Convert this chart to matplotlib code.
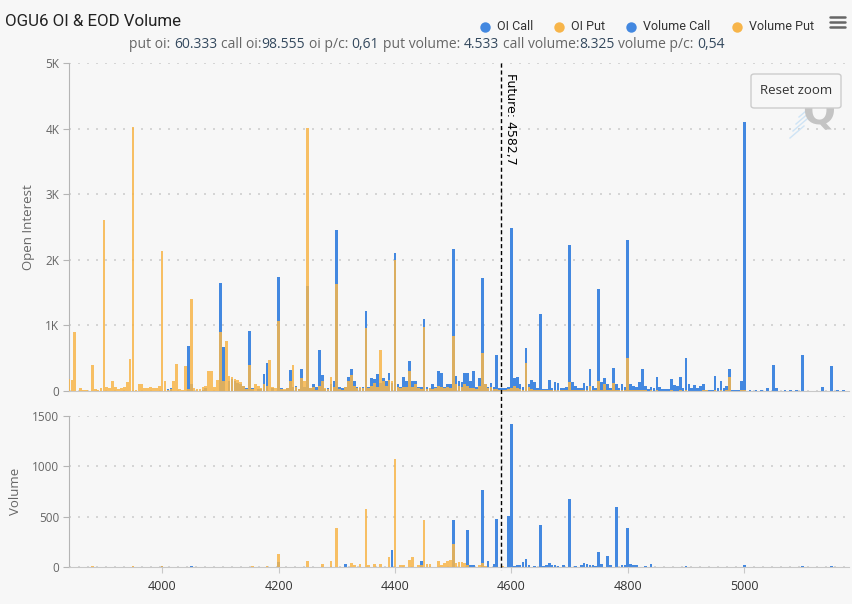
import matplotlib
matplotlib.use('Agg')
import matplotlib.pyplot as plt
import matplotlib.transforms as mtransforms
from matplotlib.ticker import FuncFormatter, FixedLocator
from matplotlib.patches import FancyBboxPatch
from matplotlib.lines import Line2D

# ---- data ----
title = "OGU6 OI & EOD Volume"
future = 4582.7
future_label = "Future: 4582,7"

put_oi = "60.333"
call_oi = "98.555"
oi_pc = "0,61"
put_volume = "4.533"
call_volume = "8.325"
volume_pc = "0,54"

oi_strikes = [
    3840, 3845, 3850, 3860, 3865, 3870, 3880, 3885, 3890, 3895,
    3900, 3905, 3910, 3915, 3920, 3925, 3930, 3935, 3940, 3945,
    3950, 3955, 3960, 3965, 3970, 3975, 3980, 3985, 3990, 3995,
    4000, 4005, 4010, 4015, 4020, 4025, 4030, 4035, 4040, 4045,
    4050, 4055, 4060, 4065, 4070, 4075, 4080, 4085, 4090, 4095,
    4100, 4105, 4110, 4115, 4120, 4125, 4130, 4135, 4140, 4145,
    4150, 4155, 4160, 4165, 4170, 4175, 4180, 4185, 4190, 4195,
    4200, 4205, 4210, 4215, 4220, 4225, 4230, 4235, 4240, 4245,
    4250, 4255, 4260, 4265, 4270, 4275, 4280, 4285, 4290, 4295,
    4300, 4305, 4310, 4315, 4320, 4325, 4330, 4335, 4340, 4345,
    4350, 4355, 4360, 4365, 4370, 4375, 4380, 4385, 4390, 4395,
    4400, 4405, 4410, 4415, 4420, 4425, 4430, 4435, 4440, 4445,
    4450, 4455, 4460, 4465, 4470, 4475, 4480, 4485, 4490, 4495,
    4500, 4505, 4510, 4515, 4520, 4525, 4530, 4535, 4540, 4545,
    4550, 4555, 4560, 4565, 4570, 4575, 4580, 4585, 4590, 4595,
    4600, 4605, 4610, 4615, 4620, 4625, 4630, 4635, 4640, 4645,
    4650, 4655, 4660, 4665, 4670, 4675, 4680, 4685, 4690, 4695,
    4700, 4705, 4710, 4715, 4720, 4725, 4730, 4735, 4740, 4745,
    4750, 4755, 4760, 4765, 4770, 4775, 4780, 4785, 4790, 4795,
    4800, 4805, 4810, 4815, 4820, 4825, 4830, 4835, 4840, 4845,
    4850, 4855, 4860, 4865, 4870, 4875, 4880, 4885, 4890, 4895,
    4900, 4905, 4910, 4915, 4920, 4925, 4930, 4935, 4940, 4945,
    4950, 4955, 4960, 4965, 4970, 4975, 4980, 4985, 4990, 4995,
    5000, 5010, 5020, 5030, 5040, 5050, 5055, 5070, 5080, 5090,
    5100, 5135, 5150, 5160, 5170,
]
oi_call = [
    0, 0, 0, 0, 0, 0, 0, 0, 0, 0,
    0, 0, 0, 0, 0, 0, 0, 0, 0, 0,
    0, 0, 0, 0, 0, 0, 0, 0, 0, 0,
    0, 0, 30, 50, 0, 0, 0, 0, 0, 680,
    100, 0, 0, 0, 20, 50, 0, 0, 0, 0,
    1650, 670, 0, 150, 180, 150, 120, 100, 80, 50,
    920, 40, 0, 30, 30, 260, 420, 0, 40, 0,
    1740, 40, 20, 50, 320, 60, 80, 30, 330, 60,
    1600, 50, 100, 60, 620, 240, 30, 50, 100, 150,
    2450, 60, 40, 60, 220, 340, 150, 60, 40, 60,
    1220, 60, 200, 180, 260, 120, 200, 150, 280, 120,
    2110, 100, 60, 210, 150, 460, 150, 150, 60, 60,
    1100, 60, 50, 110, 60, 300, 270, 60, 100, 100,
    2170, 230, 150, 130, 280, 270, 160, 300, 60, 200,
    1720, 100, 60, 120, 60, 550, 40, 50, 50, 60,
    2480, 200, 220, 100, 60, 660, 100, 170, 140, 40,
    1170, 30, 30, 170, 40, 140, 120, 40, 40, 60,
    2230, 130, 80, 40, 40, 120, 70, 340, 70, 40,
    1560, 130, 200, 100, 50, 350, 110, 40, 110, 60,
    2300, 100, 80, 60, 140, 340, 80, 30, 60, 40,
    220, 60, 30, 30, 30, 180, 90, 70, 210, 40,
    510, 110, 40, 90, 40, 70, 110, 20, 20, 10,
    230, 40, 150, 40, 70, 330, 20, 10, 20, 150,
    4100, 20, 10, 10, 40, 400, 50, 15, 15, 15,
    545, 60, 380, 20, 10,
]
oi_put = [
    180, 170, 900, 40, 10, 10, 400, 30, 20, 40,
    2600, 60, 40, 150, 60, 30, 40, 60, 130, 490,
    4020, 20, 110, 100, 40, 50, 60, 40, 50, 80,
    2130, 150, 20, 30, 160, 410, 30, 20, 380, 30,
    1400, 40, 30, 30, 60, 80, 300, 310, 60, 170,
    900, 150, 760, 230, 210, 190, 170, 140, 80, 30,
    400, 30, 100, 70, 40, 100, 80, 470, 60, 40,
    1070, 30, 30, 40, 150, 400, 60, 30, 200, 150,
    4010, 40, 60, 20, 80, 150, 40, 30, 210, 60,
    1630, 30, 20, 60, 150, 250, 80, 40, 60, 40,
    960, 40, 80, 120, 60, 630, 150, 80, 170, 160,
    2000, 60, 50, 60, 60, 300, 60, 100, 40, 30,
    970, 30, 40, 30, 40, 80, 60, 40, 60, 50,
    840, 100, 80, 60, 110, 80, 50, 40, 30, 70,
    580, 100, 40, 60, 30, 30, 20, 20, 20, 30,
    40, 80, 40, 30, 20, 420, 60, 30, 20, 10,
    20, 10, 10, 20, 10, 20, 20, 10, 10, 20,
    140, 20, 10, 10, 10, 20, 10, 80, 20, 10,
    160, 20, 110, 20, 10, 120, 20, 10, 20, 10,
    500, 20, 10, 10, 20, 10, 10, 5, 10, 5,
    10, 5, 5, 5, 5, 10, 5, 5, 10, 5,
    20, 5, 5, 5, 5, 5, 10, 10, 5, 5,
    10, 5, 10, 5, 10, 210, 5, 5, 5, 10,
    10, 0, 0, 0, 0, 5, 0, 0, 0, 0,
    0, 0, 0, 0, 0,
]

vol_strikes = [
    3880, 3950, 4000, 4050, 4155, 4180, 4200, 4250, 4275, 4290,
    4300, 4315, 4325, 4330, 4340, 4350, 4355, 4365, 4375, 4390,
    4395, 4400, 4410, 4415, 4425, 4430, 4440, 4445, 4450, 4455,
    4460, 4475, 4480, 4485, 4490, 4495, 4500, 4505, 4510, 4515,
    4520, 4525, 4530, 4535, 4545, 4550, 4555, 4560, 4570, 4575,
    4585, 4595, 4600, 4605, 4610, 4615, 4620, 4625, 4630, 4640,
    4650, 4655, 4660, 4665, 4670, 4675, 4680, 4690, 4700, 4710,
    4720, 4725, 4730, 4735, 4740, 4745, 4750, 4755, 4765, 4770,
    4780, 4790, 4795, 4800, 4805, 4810, 4815, 4830, 4840, 4900,
    5000, 5100, 5150,
]
vol_call = [
    0, 0, 5, 5, 0, 0, 50, 0, 0, 0,
    0, 30, 0, 0, 0, 0, 0, 0, 0, 0,
    170, 0, 0, 0, 0, 0, 0, 60, 0, 0,
    0, 0, 0, 0, 0, 0, 470, 0, 0, 0,
    0, 370, 20, 20, 0, 760, 0, 60, 30, 480,
    0, 510, 1420, 10, 20, 20, 50, 80, 20, 10,
    420, 10, 20, 40, 20, 20, 10, 15, 680, 10,
    20, 40, 30, 20, 15, 10, 150, 30, 110, 20,
    600, 20, 20, 385, 30, 20, 20, 10, 30, 10,
    20, 10, 10,
]
vol_put = [
    10, 5, 5, 0, 10, 10, 130, 60, 25, 55,
    390, 0, 40, 20, 30, 575, 20, 30, 25, 100,
    0, 1070, 20, 20, 70, 100, 20, 20, 465, 30,
    30, 60, 20, 40, 60, 70, 230, 40, 50, 50,
    40, 20, 0, 0, 20, 40, 10, 0, 0, 0,
    5, 0, 0, 0, 0, 0, 0, 0, 0, 0,
    0, 0, 0, 0, 0, 0, 0, 0, 0, 0,
    0, 0, 0, 0, 0, 0, 0, 0, 0, 0,
    0, 0, 0, 0, 0, 0, 0, 0, 0, 0,
    0, 0, 0,
]

legend_items = ["OI Call", "OI Put", "Volume Call", "Volume Put"]

# ---- style ----
BG = '#f7f7f7'
BLUE = '#4388e0'
ORANGE = '#f7b54a'
GREY = '#666666'
NAVY = '#34495e'
NARROW = ['Roboto', 'DejaVu Sans']
SANS = ['Open Sans', 'DejaVu Sans']
STRETCH = 'condensed'
BAR_W = 4.6

W, H = 853, 604
fig = plt.figure(figsize=(W / 100, H / 100), dpi=100)
fig.patch.set_facecolor(BG)
renderer = fig.canvas.get_renderer()


def fx(px):
    return px / W


def fy(py):
    return 1 - py / H


def text_width(s, size, family, stretch='normal'):
    t = fig.text(0, 0, s, fontsize=size, family=family, fontstretch=stretch)
    w = t.get_window_extent(renderer).width
    t.remove()
    return w


ax1 = fig.add_axes([fx(69), fy(391), (849 - 69) / W, (391 - 63) / H])
ax2 = fig.add_axes([fx(69), fy(567), (849 - 69) / W, (567 - 416) / H], sharex=ax1)

for ax in (ax1, ax2):
    ax.set_facecolor(BG)
    for side in ('top', 'right'):
        ax.spines[side].set_visible(False)
    ax.spines['left'].set_color('#b5b5b5')
    ax.spines['bottom'].set_color('#c8c8c8')
    ax.yaxis.grid(True, linestyle=(0, (1.2, 4.2)), linewidth=1.2, color='#cfcfcf')
    ax.set_axisbelow(True)
    ax.tick_params(axis='y', length=4, color='#b5b5b5', labelsize=8.5,
                   labelcolor=GREY, pad=3)

# open interest
ax1.bar(oi_strikes, oi_call, width=BAR_W, color=BLUE, zorder=2, linewidth=0)
ax1.bar(oi_strikes, oi_put, width=BAR_W, color=ORANGE, alpha=0.85, zorder=3, linewidth=0)
ax1.set_ylim(0, 5000)
ax1.yaxis.set_major_locator(FixedLocator([0, 1000, 2000, 3000, 4000, 5000]))
ax1.yaxis.set_major_formatter(FuncFormatter(lambda v, p: '0' if v == 0 else f'{int(v / 1000)}K'))
ax1.tick_params(axis='x', length=0, labelbottom=False)

# volume
ax2.bar(vol_strikes, vol_call, width=BAR_W, color=BLUE, zorder=2, linewidth=0)
ax2.bar(vol_strikes, vol_put, width=BAR_W, color=ORANGE, alpha=0.85, zorder=3, linewidth=0)
ax2.set_ylim(0, 1500)
ax2.yaxis.set_major_locator(FixedLocator([0, 500, 1000, 1500]))
ax2.set_xlim(3840, 5180)
ax2.xaxis.set_major_locator(FixedLocator([4000, 4200, 4400, 4600, 4800, 5000]))
ax2.tick_params(axis='x', length=4, color='#c8c8c8', labelsize=9, labelcolor='#333333', pad=5)

for ax in (ax1, ax2):
    for lab in ax.get_yticklabels() + ax.get_xticklabels():
        lab.set_family(SANS)

ax1.set_ylabel('Open Interest', fontsize=9.5, color=GREY, family=SANS)
ax1.yaxis.set_label_coords((35 - 69) / 780, 0.5)
ax2.set_ylabel('Volume', fontsize=9.5, color=GREY, family=SANS)
ax2.yaxis.set_label_coords((22 - 69) / 780, 0.5)

# future line across both panes
trans = mtransforms.blended_transform_factory(ax1.transData, fig.transFigure)
fig.add_artist(Line2D([future, future], [fy(63), fy(570)], transform=trans,
                      color='black', linewidth=1, linestyle=(0, (3, 2)), zorder=5))
ax1.annotate(future_label, xy=(future, 5000), xytext=(2, -7), textcoords='offset points',
             rotation=270, ha='left', va='top', fontsize=9, color='black', family='DejaVu Sans')

# watermark and reset zoom button
fig.text(fx(819), fy(114), 'Q', fontsize=28, fontweight='bold', color='#c4c4c4',
         ha='center', va='center', family='DejaVu Sans', zorder=1)
for i in range(4):
    fig.add_artist(Line2D([fx(790 + i * 3), fx(804 + i * 3)], [fy(138 - i * 7), fy(126 - i * 7)],
                          color='#cfe4f5', linewidth=1, zorder=1))
btn = FancyBboxPatch((fx(751), fy(108)), (841 - 751) / W, (108 - 74) / H,
                     boxstyle='round,pad=0,rounding_size=0.004', transform=fig.transFigure,
                     facecolor=BG, edgecolor='#cccccc', linewidth=1, zorder=6)
fig.add_artist(btn)
fig.text(fx(796), fy(90), 'Reset zoom', fontsize=9.5, color='#333333', ha='center',
         va='center', family=SANS, zorder=7)

# title, narrowed to the reference width
title_size = 13.5 * 177 / text_width(title, 13.5, NARROW, STRETCH)
fig.text(fx(5), fy(21), title, fontsize=title_size, color='#222222', ha='left', va='center',
         family=NARROW, fontstretch=STRETCH)

# subtitle with coloured numbers
sub_parts = [
    ("put oi:", GREY, 1), (put_oi, NAVY, 1),
    ("call oi:", GREY, 0), (call_oi, NAVY, 1),
    ("oi p/c:", GREY, 1), (oi_pc, NAVY, 1),
    ("put volume:", GREY, 1), (put_volume, NAVY, 1),
    ("call volume:", GREY, 0), (call_volume, NAVY, 1),
    ("volume p/c:", GREY, 1), (volume_pc, NAVY, 0),
]


def parts_width(size):
    sp = text_width("x x", size, SANS) - text_width("xx", size, SANS)
    return sum(text_width(s, size, SANS) + n * sp for s, c, n in sub_parts), sp


sub_size = 9.5
tot, sp = parts_width(sub_size)
sub_size = sub_size * 600 / tot
tot, sp = parts_width(sub_size)
x = 427 - tot / 2
for s, c, n in sub_parts:
    fig.text(fx(x), fy(45), s, color=c, fontsize=sub_size, family=SANS, ha='left', va='center')
    x += text_width(s, sub_size, SANS) + n * sp

# legend, sized so it spans 485..811 px like the reference
leg_colors = [BLUE, ORANGE, BLUE, ORANGE]
leg_size = 10
names_w = sum(text_width(n, leg_size, NARROW, STRETCH) for n in legend_items)
leg_size = leg_size * (811 - 485 - 12 * 4 - 26 * 3) / names_w
x = 485
for name, col in zip(legend_items, leg_colors):
    fig.add_artist(Line2D([fx(x)], [fy(27)], marker='o', markersize=7.5, color=col,
                          markeredgewidth=0, linestyle='none'))
    fig.text(fx(x + 12), fy(27), name, fontsize=leg_size, color='#333333', ha='left',
             va='center', family=NARROW, fontstretch=STRETCH)
    x += 12 + text_width(name, leg_size, NARROW, STRETCH) + 26

# menu icon
for yy in (17, 22, 27):
    fig.add_artist(Line2D([fx(830), fx(845)], [fy(yy), fy(yy)], color='#666666',
                          linewidth=1.8, solid_capstyle='round'))

fig.savefig('out.png', dpi=100, facecolor=BG)
